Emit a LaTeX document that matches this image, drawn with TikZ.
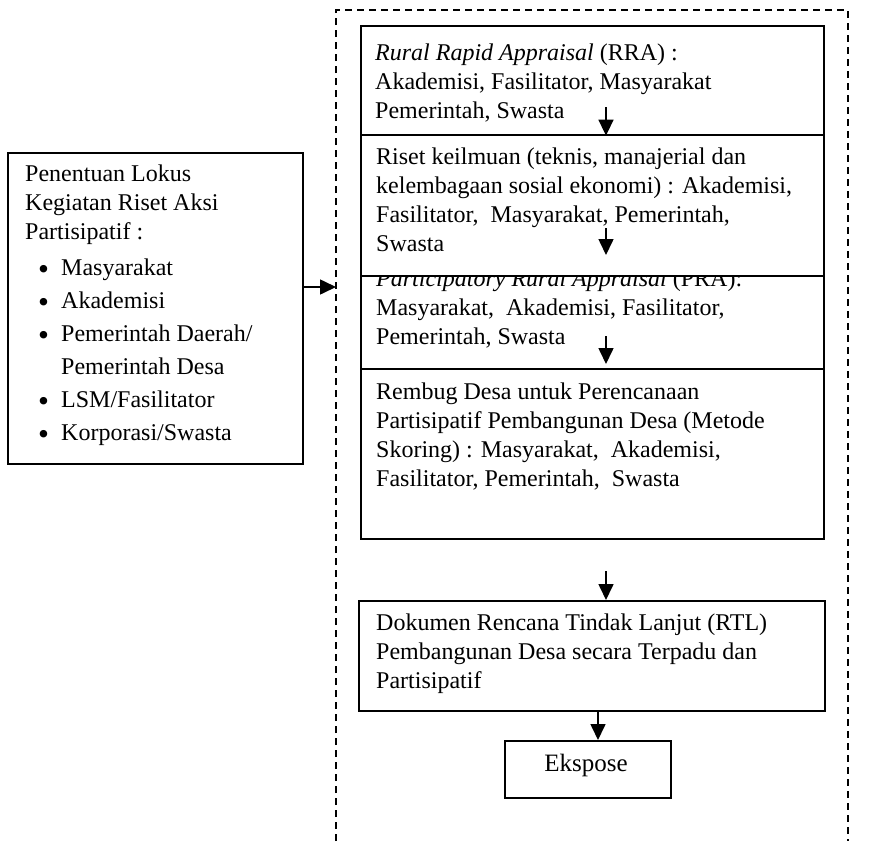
\documentclass[tikz,border=0pt]{standalone}
\usepackage{fontspec}
\setmainfont{Liberation Serif}
\usetikzlibrary{arrows.meta}
\newcommand\blt{\makebox[23pt][l]{\raisebox{-4pt}{\scalebox{1.3}{•}}}}
\begin{document}
\begin{tikzpicture}[x=1pt,y=-1pt,
  box/.style={draw,line width=1.6pt,fill=white,inner sep=0pt,anchor=north west},
  txt/.style={inner sep=0pt,anchor=north west,align=left,font=\fontsize{24}{29}\selectfont},
  flow/.style={line width=1.6pt,-{Triangle[width=15pt,length=16pt]}},
  frameline/.style={line width=1.4pt,dash pattern=on 7pt off 5pt}]
\useasboundingbox (0,0) rectangle (878,841);
% left box
\node[box,minimum width=295pt,minimum height=311pt] (lok) at (7,152) {};
\node[txt] (lokt) at (25,160.7) {\strut Penentuan Lokus\\Kegiatan Riset Aksi\\Partisipatif :};
\node[txt,font=\fontsize{24}{33}\selectfont] (lokl) at (38,251.9) {\strut\blt Masyarakat\\
\blt Akademisi\\
\blt Pemerintah Daerah/\\
\hspace*{23pt}Pemerintah Desa\\
\blt LSM/Fasilitator\\
\blt Korporasi/Swasta};
% dashed frame
\coordinate (fbl) at (336,841);
\coordinate (ftl) at (336,10);
\coordinate (ftr) at (848,10);
\coordinate (fbr) at (848,841);
\draw[frameline] (fbl) -- (ftl) -- (ftr) -- (fbr);
\coordinate (fin) at (336,287);
\draw[flow] (lok.east |- fin) -- (fin);
% box 4
\node[box,minimum width=463pt,minimum height=171pt] (b4) at (360,367) {};
\node[txt] (t4) at (376,378.7) {\strut Rembug Desa untuk Perencanaan\\Partisipatif Pembangunan Desa (Metode\\Skoring) : Masyarakat,\ \ Akademisi,\\Fasilitator, Pemerintah,\ \ Swasta};
% box 3
\node[box,minimum width=463pt,minimum height=93pt] (b3) at (360,275) {};
\node[txt] (t3) at (376,265.7) {\strut\textit{Participatory Rural Appraisal} (PRA):\\Masyarakat,\ \ Akademisi, Fasilitator,\\Pemerintah, Swasta};
% box 2
\node[box,minimum width=463pt,minimum height=141pt] (b2) at (360,134) {};
\node[txt] (t2) at (376,143.7) {\strut Riset keilmuan (teknis, manajerial dan\\kelembagaan sosial ekonomi) : Akademisi,\\Fasilitator,\ \ Masyarakat, Pemerintah,\\Swasta};
% box 1
\node[box,minimum width=463pt,minimum height=109pt] (b1) at (360,25) {};
\node[txt] (t1) at (375,39.7) {\strut\textit{Rural Rapid Appraisal} (RRA) :\\Akademisi, Fasilitator, Masyarakat\\Pemerintah, Swasta};
% box 5
\node[box,minimum width=466pt,minimum height=110pt] (b5) at (358,600) {};
\node[txt] (t5) at (376,609.7) {\strut Dokumen Rencana Tindak Lanjut (RTL)\\Pembangunan Desa secara Terpadu dan\\Partisipatif};
% box 6
\node[box,minimum width=166pt,minimum height=57pt] (b6) at (504,740) {};
\node[inner sep=0pt,anchor=base,font=\fontsize{25}{29}\selectfont] (t6) at (586,771) {Ekspose};
% arrows
\coordinate (a1s) at (606,107);
\draw[flow] (a1s) -- (a1s |- b1.south);
\coordinate (a2s) at (606,228);
\coordinate (a2e) at (606,255);
\draw[flow] (a2s) -- (a2e);
\coordinate (a3s) at (606,336);
\coordinate (a3e) at (606,364);
\draw[flow] (a3s) -- (a3e);
\coordinate (a4s) at (606,571);
\draw[flow] (a4s) -- (a4s |- b5.north);
\coordinate (a5) at (598,0);
\draw[flow] (b5.south -| a5) -- (b6.north -| a5);
\end{tikzpicture}
\end{document}
